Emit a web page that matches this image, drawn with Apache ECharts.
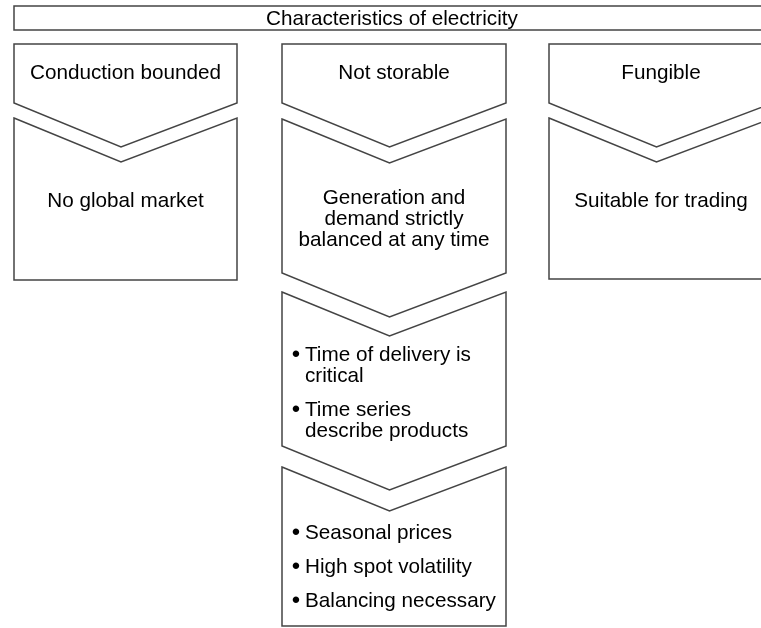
<!DOCTYPE html>
<html>
<head>
<meta charset="utf-8">
<script src="https://cdn.jsdelivr.net/npm/echarts@6/dist/echarts.min.js"></script>
<style>
  html, body { margin: 0; padding: 0; background: #fff; }
  #main { width: 761px; height: 628px; }
</style>
</head>
<body>
<div id="main"></div>
<script>
// texts of the diagram
const title = 'Characteristics of electricity'
const properties = ['Conduction bounded', 'Not storable', 'Fungible']
const consequences = ['No global market', 'Generation and\ndemand strictly\nbalanced at any time', 'Suitable for trading']
const deliveryNotes = ['Time of delivery is\ncritical', 'Time series\ndescribe products']
const marketNotes = ['Seasonal prices', 'High spot volatility', 'Balancing necessary']

// layout (axis units == pixels)
const colLeft = [14, 282, 549]
const colRight = [237, 506, 773]
const tipShift = -4.5
const depth = 44
const lineGap = 21
const font = '20.7px "Liberation Sans", Arial, Helvetica, sans-serif'
const bulletFont = '24px "Liberation Sans", Arial, Helvetica, sans-serif'
const stroke = '#444'

const frames = [
  { left: 14, right: 770, top: 6, bottom: 30 },
  { col: 0, top: 44, bottom: 103, tip: true },
  { col: 0, top: 118, bottom: 280, notch: true },
  { col: 1, top: 44, bottom: 103, tip: true },
  { col: 1, top: 119, bottom: 273, notch: true, tip: true },
  { col: 1, top: 292, bottom: 446, notch: true, tip: true },
  { col: 1, top: 467, bottom: 626, notch: true },
  { col: 2, top: 44, bottom: 103, tip: true },
  { col: 2, top: 118, bottom: 279, notch: true }
]

const titleY = 19
const propertyY = 73
const consequenceY = [201, 219, 201]
const deliveryY = [355, 410]
const marketY = [533.5, 567.5, 601]
const bulletX = 296
const noteX = 305

function colMid (i) {
  return (colLeft[i] + colRight[i]) / 2
}

// build label list from the text arrays
const labels = []
labels.push({ text: title, x: 392, y: titleY, align: 'center' })
properties.forEach((t, i) => labels.push({ text: t, x: colMid(i), y: propertyY, align: 'center' }))
consequences.forEach((t, i) => {
  const n = t.split('\n').length
  labels.push({ text: t, x: colMid(i), y: consequenceY[i] - (n - 1) * lineGap / 2, align: 'center' })
})
deliveryNotes.forEach((t, i) => labels.push({ text: t, x: noteX, y: deliveryY[i], align: 'left', bullet: true }))
marketNotes.forEach((t, i) => labels.push({ text: t, x: noteX, y: marketY[i], align: 'left', bullet: true }))

function framePoints (f) {
  const L = f.col === undefined ? f.left : colLeft[f.col]
  const R = f.col === undefined ? f.right : colRight[f.col]
  const mid = (L + R) / 2 + tipShift
  const pts = [[L, f.top]]
  if (f.notch) pts.push([mid, f.top + depth])
  pts.push([R, f.top], [R, f.bottom])
  if (f.tip) pts.push([mid, f.bottom + depth])
  pts.push([L, f.bottom])
  return pts
}

const chart = echarts.init(document.getElementById('main'))
chart.setOption({
  backgroundColor: '#fff',
  animation: false,
  grid: { left: 0, right: 0, top: 0, bottom: 0 },
  xAxis: { type: 'value', min: 0, max: 761, show: false },
  yAxis: { type: 'value', min: 0, max: 628, inverse: true, show: false },
  series: [
    {
      type: 'custom',
      silent: true,
      clip: false,
      data: frames.map((f, i) => [i]),
      renderItem: function (params, api) {
        const pts = framePoints(frames[params.dataIndex]).map(p => api.coord(p))
        return {
          type: 'polygon',
          shape: { points: pts },
          style: { fill: '#fff', stroke: stroke, lineWidth: 1.5 }
        }
      }
    },
    {
      type: 'custom',
      silent: true,
      clip: false,
      z: 3,
      data: labels.map(l => [l.x, l.y]),
      renderItem: function (params, api) {
        const l = labels[params.dataIndex]
        const children = []
        l.text.split('\n').forEach((line, k) => {
          const p = api.coord([l.x, l.y + k * lineGap])
          children.push({
            type: 'text',
            style: { text: line, x: p[0], y: p[1], font: font, fill: '#000', align: l.align, verticalAlign: 'middle' }
          })
        })
        if (l.bullet) {
          const b = api.coord([bulletX, l.y])
          children.push({
            type: 'text',
            style: { text: '•', x: b[0], y: b[1], font: bulletFont, fill: '#000', align: 'center', verticalAlign: 'middle' }
          })
        }
        return { type: 'group', children: children }
      }
    }
  ]
})
</script>
</body>
</html>
